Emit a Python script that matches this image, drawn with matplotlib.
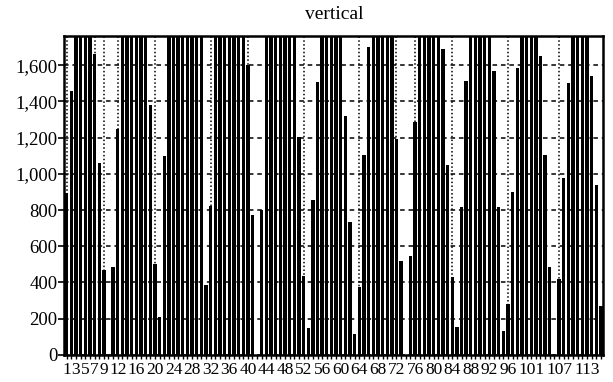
import numpy as np
import matplotlib
matplotlib.use("Agg")
import matplotlib.pyplot as plt

plt.rcParams['font.family'] = ['Liberation Serif', 'DejaVu Serif']

# bar values; bars marked 1800 run past the top of the axis
bar_no = np.arange(1, 117)
values = [
    893, 1457, 1800, 1800, 1800, 1800, 1661, 1059, 467, 0,
    485, 1245, 1800, 1800, 1800, 1800, 1800, 1800, 1383, 504,
    207, 1096, 1800, 1800, 1800, 1800, 1800, 1800, 1800, 1800,
    386, 822, 1800, 1800, 1800, 1800, 1800, 1800, 1800, 1604,
    771, 0, 799, 1800, 1800, 1800, 1800, 1800, 1800, 1800,
    1202, 436, 151, 855, 1509, 1800, 1800, 1800, 1800, 1800,
    1319, 735, 115, 374, 1106, 1698, 1800, 1800, 1800, 1800,
    1800, 1190, 520, 0, 548, 1285, 1800, 1800, 1800, 1800,
    1800, 1689, 1050, 430, 152, 819, 1513, 1800, 1800, 1800,
    1800, 1800, 1569, 819, 133, 281, 902, 1587, 1800, 1800,
    1800, 1800, 1652, 1106, 485, 0, 420, 976, 1504, 1800,
    1800, 1800, 1800, 1541, 939, 272,
]
label_no = [1, 3, 5, 7, 9, 12, 16, 20, 24, 28, 32, 36, 40, 44, 48, 52, 56,
            60, 64, 68, 72, 76, 80, 84, 88, 92, 96, 101, 107, 113]
y_ticks = np.arange(0, 1601, 200)

fig, ax = plt.subplots(figsize=(6.13, 3.82), dpi=100)
fig.subplots_adjust(left=0.105, right=0.984, bottom=0.071, top=0.906)

ax.bar(bar_no, values, width=0.72, color='black', zorder=2)
ax.set_xlim(0.5, 116.5)
ax.set_ylim(0, 1762)

ax.set_yticks(y_ticks)
ax.set_yticklabels([f'{v:,}' for v in y_ticks])
ax.set_xticks(label_no)
ax.set_xticklabels([str(n) for n in label_no])
ax.set_xticks(bar_no, minor=True)

ax.set_axisbelow(True)
ax.yaxis.grid(True, linestyle=(0, (3, 2.5)), color='black', lw=1.1)
ax.xaxis.grid(True, linestyle=(0, (1, 1.5)), color='black', lw=1.1)

for s in ax.spines.values():
    s.set_linewidth(1.8)

ax.tick_params(axis='x', which='major', length=3, width=1, pad=2, labelsize=12.5)
ax.tick_params(axis='x', which='minor', length=3, width=1)
ax.tick_params(axis='y', length=4, width=1.2, pad=1, labelsize=13.5)

ax.set_title('vertical', fontsize=14, pad=12)

fig.savefig('out.png', dpi=100)
